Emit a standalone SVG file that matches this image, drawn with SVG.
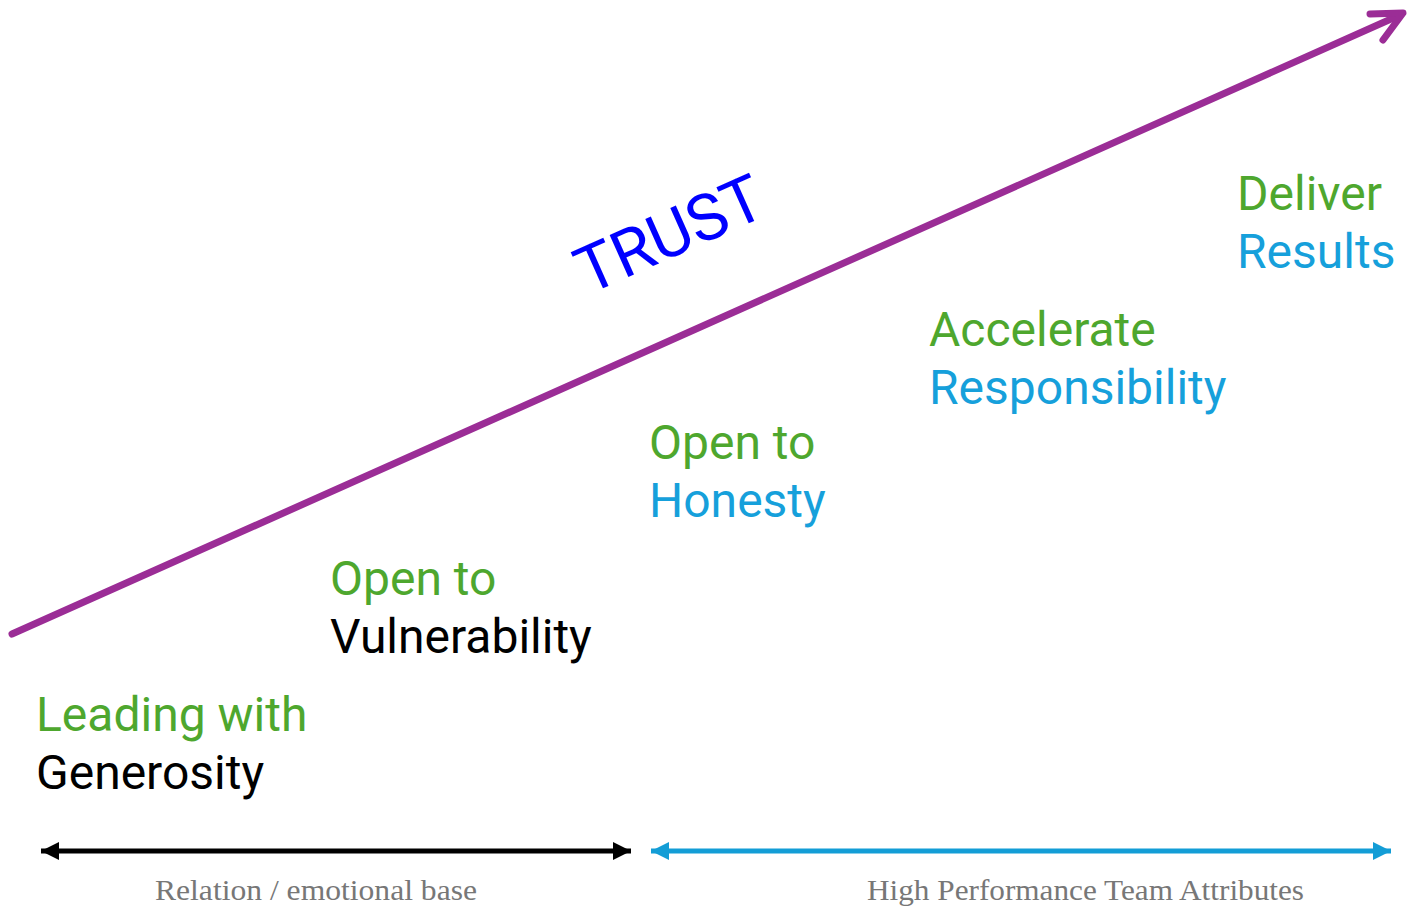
<svg xmlns="http://www.w3.org/2000/svg" width="1410" height="909" viewBox="0 0 1410 909">
<style>
.lbl{font-family:Roboto,"Liberation Sans",sans-serif;font-size:48px}
.g{fill:#4ea72e}
.b{fill:#16a0db}
.k{fill:#000}
.foot{font-family:"Liberation Serif",serif;font-size:30px;fill:#777}
</style>
<defs>
<marker id="hk" viewBox="0 0 10 10" refX="10" refY="5" markerWidth="4" markerHeight="3.6" orient="auto-start-reverse" markerUnits="strokeWidth">
<path d="M0,0 L10,5 L0,10 z" fill="#000"/>
</marker>
<marker id="hb" viewBox="0 0 10 10" refX="10" refY="5" markerWidth="4" markerHeight="3.6" orient="auto-start-reverse" markerUnits="strokeWidth">
<path d="M0,0 L10,5 L0,10 z" fill="#139dd6"/>
</marker>
</defs>
<rect width="1410" height="909" fill="#fff"/>
<g id="connectors">
<g id="trust-arrow" fill="none" stroke="#9b2d96" stroke-width="7" stroke-linecap="round" stroke-linejoin="round">
<line x1="12" y1="634" x2="1400" y2="15"/>
<polyline points="1370,14 1403,13 1383,40"/>
</g>
<line id="base-arrow" x1="41" y1="851" x2="631" y2="851" stroke="#000" stroke-width="5" marker-start="url(#hk)" marker-end="url(#hk)"/>
<line id="team-arrow" x1="651" y1="851" x2="1391" y2="851" stroke="#139dd6" stroke-width="5" marker-start="url(#hb)" marker-end="url(#hb)"/>
</g>
<g id="trust-label">
<text x="588" y="295" transform="rotate(-24 588 295)" font-family="Roboto,'Liberation Sans',sans-serif" font-size="65" fill="#0000ff">TRUST</text>
</g>
<g id="node-generosity">
<text class="lbl g" x="36" y="731">Leading with</text>
<text class="lbl k" x="36" y="789">Generosity</text>
</g>
<g id="node-vulnerability">
<text class="lbl g" x="330" y="595">Open to</text>
<text class="lbl k" x="330" y="653">Vulnerability</text>
</g>
<g id="node-honesty">
<text class="lbl g" x="649" y="459">Open to</text>
<text class="lbl b" x="649" y="517">Honesty</text>
</g>
<g id="node-responsibility">
<text class="lbl g" x="929" y="346">Accelerate</text>
<text class="lbl b" x="929" y="404">Responsibility</text>
</g>
<g id="node-results">
<text class="lbl g" x="1237" y="210">Deliver</text>
<text class="lbl b" x="1237" y="268">Results</text>
</g>
<g id="footer-labels">
<text class="foot" x="155" y="900" textLength="322" lengthAdjust="spacingAndGlyphs">Relation / emotional base</text>
<text class="foot" x="867" y="900" textLength="437" lengthAdjust="spacingAndGlyphs">High Performance Team Attributes</text>
</g>
</svg>
